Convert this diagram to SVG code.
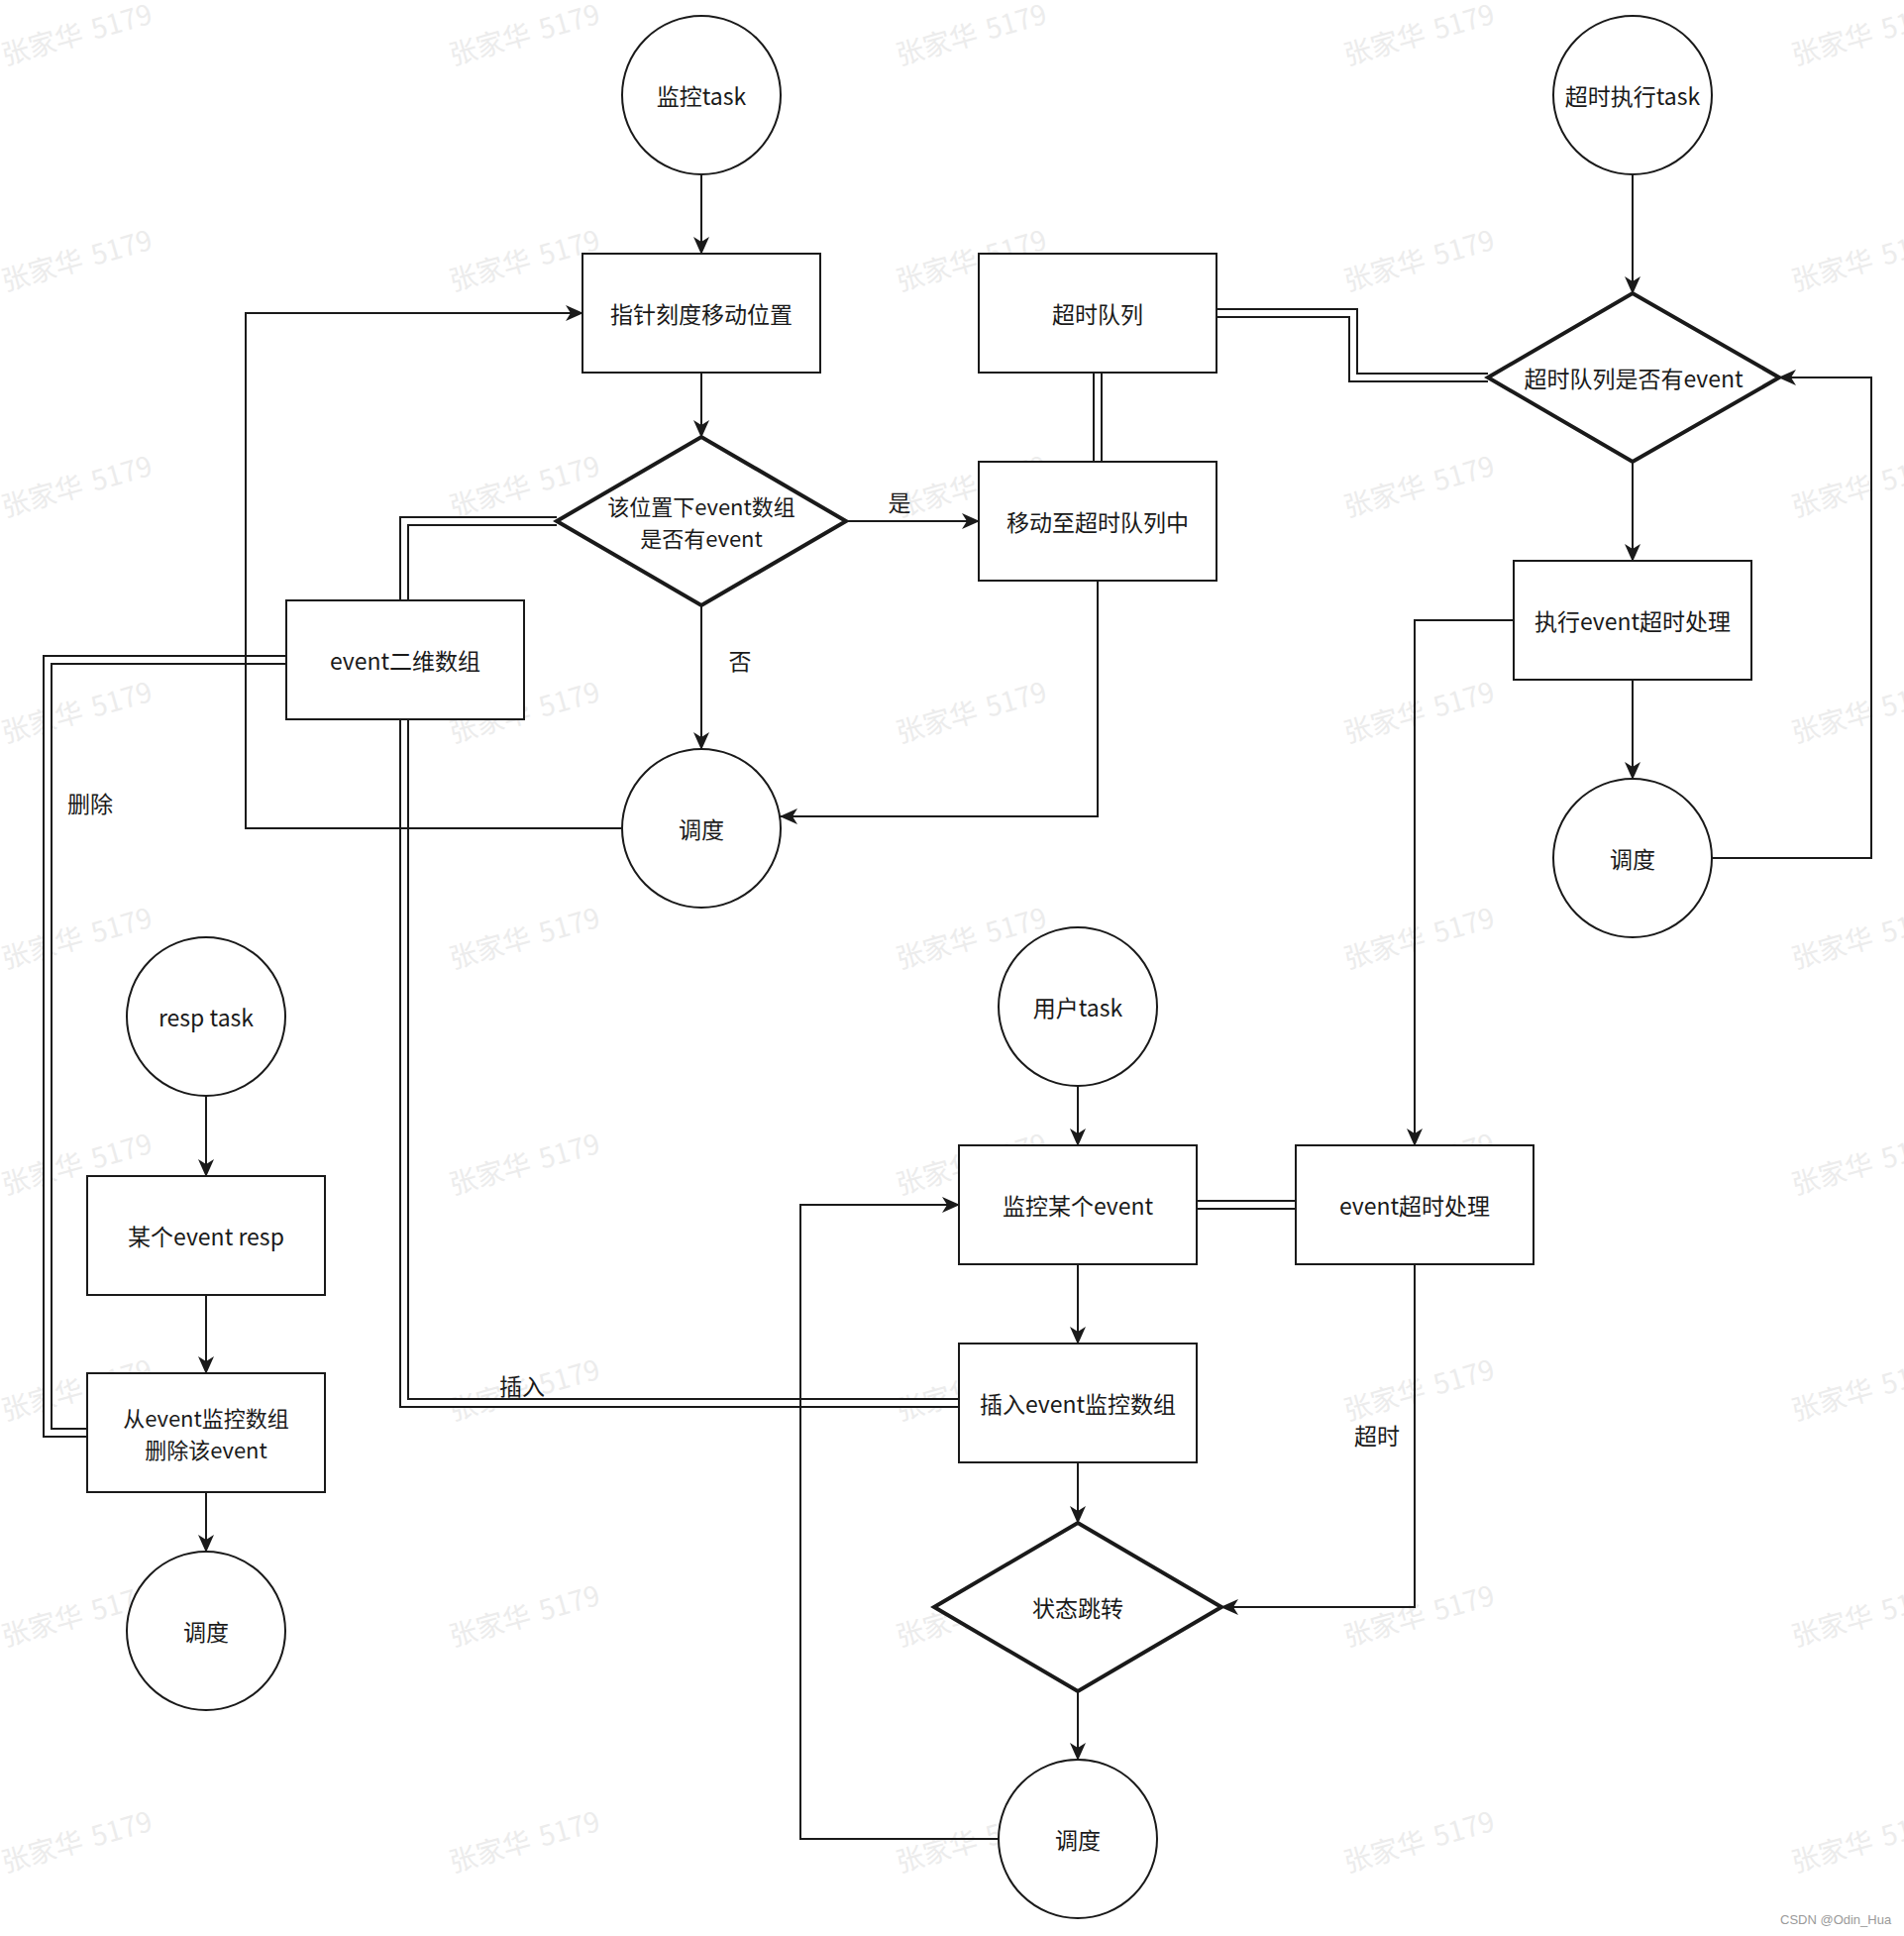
<svg xmlns="http://www.w3.org/2000/svg" xmlns:xlink="http://www.w3.org/1999/xlink" width="1922" height="1954" viewBox="0 0 1922 1954">
<style>
.shape{fill:#fff;stroke:#1a1a1a;stroke-width:2}
.dia{fill:#fff;stroke:#1a1a1a;stroke-width:4;stroke-linejoin:miter}
.t{font-family:"Noto Sans CJK SC","Liberation Sans",sans-serif;font-size:23px;fill:#1a1a1a;text-anchor:middle;dominant-baseline:central}
.t2{font-size:22px}
.lbl{font-family:"Noto Sans CJK SC","Liberation Sans",sans-serif;font-size:23px;fill:#1a1a1a;text-anchor:middle;dominant-baseline:central}
.wire{fill:none;stroke:#1a1a1a;stroke-width:2}
.arr{marker-end:url(#ah)}
.dblo{fill:none;stroke:#1a1a1a;stroke-width:10}
.dbli{fill:none;stroke:#fff;stroke-width:6}
.wm{font-family:"Noto Sans CJK SC","Liberation Sans",sans-serif;font-size:28px;fill:#ececec;word-spacing:4px}
.cr{font-family:"Liberation Sans",sans-serif;font-size:13px;fill:#9a9a9a}
</style>
<defs>
<marker id="ah" markerUnits="userSpaceOnUse" markerWidth="18" markerHeight="16" refX="17" refY="8" orient="auto">
<path d="M0,0 L18,8 L0,16 L5,8 Z" fill="#1a1a1a"/>
</marker>
<text id="wmt" class="wm" transform="rotate(-16)">张家华 5179</text>
</defs>
<rect width="1922" height="1954" fill="#fff"/>
<g id="watermarks">
<use xlink:href="#wmt" x="5" y="66"/><use xlink:href="#wmt" x="457" y="66"/><use xlink:href="#wmt" x="908" y="66"/><use xlink:href="#wmt" x="1360" y="66"/><use xlink:href="#wmt" x="1812" y="66"/>
<use xlink:href="#wmt" x="5" y="294"/><use xlink:href="#wmt" x="457" y="294"/><use xlink:href="#wmt" x="908" y="294"/><use xlink:href="#wmt" x="1360" y="294"/><use xlink:href="#wmt" x="1812" y="294"/>
<use xlink:href="#wmt" x="5" y="522"/><use xlink:href="#wmt" x="457" y="522"/><use xlink:href="#wmt" x="908" y="522"/><use xlink:href="#wmt" x="1360" y="522"/><use xlink:href="#wmt" x="1812" y="522"/>
<use xlink:href="#wmt" x="5" y="750"/><use xlink:href="#wmt" x="457" y="750"/><use xlink:href="#wmt" x="908" y="750"/><use xlink:href="#wmt" x="1360" y="750"/><use xlink:href="#wmt" x="1812" y="750"/>
<use xlink:href="#wmt" x="5" y="978"/><use xlink:href="#wmt" x="457" y="978"/><use xlink:href="#wmt" x="908" y="978"/><use xlink:href="#wmt" x="1360" y="978"/><use xlink:href="#wmt" x="1812" y="978"/>
<use xlink:href="#wmt" x="5" y="1206"/><use xlink:href="#wmt" x="457" y="1206"/><use xlink:href="#wmt" x="908" y="1206"/><use xlink:href="#wmt" x="1360" y="1206"/><use xlink:href="#wmt" x="1812" y="1206"/>
<use xlink:href="#wmt" x="5" y="1434"/><use xlink:href="#wmt" x="457" y="1434"/><use xlink:href="#wmt" x="908" y="1434"/><use xlink:href="#wmt" x="1360" y="1434"/><use xlink:href="#wmt" x="1812" y="1434"/>
<use xlink:href="#wmt" x="5" y="1662"/><use xlink:href="#wmt" x="457" y="1662"/><use xlink:href="#wmt" x="908" y="1662"/><use xlink:href="#wmt" x="1360" y="1662"/><use xlink:href="#wmt" x="1812" y="1662"/>
<use xlink:href="#wmt" x="5" y="1890"/><use xlink:href="#wmt" x="457" y="1890"/><use xlink:href="#wmt" x="908" y="1890"/><use xlink:href="#wmt" x="1360" y="1890"/><use xlink:href="#wmt" x="1812" y="1890"/>
</g>
<g id="connectors">
<g id="double-lines">
<path class="dblo" d="M1108,376 V466"/><path class="dbli" d="M1108,376 V466"/>
<path class="dblo" d="M1228,316 H1366 V381 H1502"/><path class="dbli" d="M1226,316 H1366 V381 H1504"/>
<path class="dblo" d="M562,526 H408 V606"/><path class="dbli" d="M564,526 H408 V608"/>
<path class="dblo" d="M289,666 H48 V1446 H88"/><path class="dbli" d="M291,666 H48 V1446 H90"/>
<path class="dblo" d="M408,726 V1416 H968"/><path class="dbli" d="M408,724 V1416 H970"/>
<path class="dblo" d="M1208,1216 H1308"/><path class="dbli" d="M1206,1216 H1310"/>
</g>
<path class="wire arr" d="M708,176 V256"/>
<path class="wire arr" d="M708,376 V441"/>
<path class="wire arr" d="M854,526 H988"/>
<path class="wire arr" d="M708,611 V756"/>
<path class="wire arr" d="M1108,586 V824 H788"/>
<path class="wire arr" d="M628,836 H248 V316 H588"/>
<path class="wire arr" d="M1648,176 V296"/>
<path class="wire arr" d="M1648,466 V566"/>
<path class="wire arr" d="M1648,686 V786"/>
<path class="wire arr" d="M1728,866 H1889 V381 H1796"/>
<path class="wire arr" d="M1528,626 H1428 V1156"/>
<path class="wire arr" d="M208,1106 V1187"/>
<path class="wire arr" d="M208,1307 V1386"/>
<path class="wire arr" d="M208,1506 V1566"/>
<path class="wire arr" d="M1088,1096 V1156"/>
<path class="wire arr" d="M1088,1276 V1356"/>
<path class="wire arr" d="M1088,1476 V1537"/>
<path class="wire arr" d="M1428,1276 V1622 H1233"/>
<path class="wire arr" d="M1088,1707 V1776"/>
<path class="wire arr" d="M1008,1856 H808 V1216 H968"/>
<text class="lbl" x="908" y="506">是</text>
<text class="lbl" x="747" y="666">否</text>
<text class="lbl" x="91" y="810">删除</text>
<text class="lbl" x="527" y="1398">插入</text>
<text class="lbl" x="1390" y="1448">超时</text>
</g>
<g id="n_monitor_task"><circle class="shape" cx="708" cy="96" r="80"/><text class="t" x="708" y="96">监控task</text></g>
<g id="n_pointer"><rect class="shape" x="588" y="256" width="240" height="120"/><text class="t" x="708" y="316">指针刻度移动位置</text></g>
<g id="n_check"><polygon class="dia" points="562,526 708,441 854,526 708,611"/><text class="t t2"><tspan x="708" y="510">该位置下event数组</tspan><tspan x="708" y="542">是否有event</tspan></text></g>
<g id="n_move"><rect class="shape" x="988" y="466" width="240" height="120"/><text class="t" x="1108" y="526">移动至超时队列中</text></g>
<g id="n_timeout_queue"><rect class="shape" x="988" y="256" width="240" height="120"/><text class="t" x="1108" y="316">超时队列</text></g>
<g id="n_sched1"><circle class="shape" cx="708" cy="836" r="80"/><text class="t" x="708" y="836">调度</text></g>
<g id="n_event2d"><rect class="shape" x="289" y="606" width="240" height="120"/><text class="t" x="409" y="666">event二维数组</text></g>
<g id="n_timeout_task"><circle class="shape" cx="1648" cy="96" r="80"/><text class="t" x="1648" y="96">超时执行task</text></g>
<g id="n_queue_check"><polygon class="dia" points="1502,381 1648,296 1796,381 1648,466"/><text class="t" x="1649" y="381">超时队列是否有event</text></g>
<g id="n_exec"><rect class="shape" x="1528" y="566" width="240" height="120"/><text class="t" x="1648" y="626">执行event超时处理</text></g>
<g id="n_sched2"><circle class="shape" cx="1648" cy="866" r="80"/><text class="t" x="1648" y="866">调度</text></g>
<g id="n_resp_task"><circle class="shape" cx="208" cy="1026" r="80"/><text class="t" x="208" y="1026">resp task</text></g>
<g id="n_resp"><rect class="shape" x="88" y="1187" width="240" height="120"/><text class="t" x="208" y="1247">某个event resp</text></g>
<g id="n_delete"><rect class="shape" x="88" y="1386" width="240" height="120"/><text class="t t2"><tspan x="208" y="1430">从event监控数组</tspan><tspan x="208" y="1462">删除该event</tspan></text></g>
<g id="n_sched3"><circle class="shape" cx="208" cy="1646" r="80"/><text class="t" x="208" y="1646">调度</text></g>
<g id="n_user_task"><circle class="shape" cx="1088" cy="1016" r="80"/><text class="t" x="1088" y="1016">用户task</text></g>
<g id="n_watch"><rect class="shape" x="968" y="1156" width="240" height="120"/><text class="t" x="1088" y="1216">监控某个event</text></g>
<g id="n_timeout_handle"><rect class="shape" x="1308" y="1156" width="240" height="120"/><text class="t" x="1428" y="1216">event超时处理</text></g>
<g id="n_insert"><rect class="shape" x="968" y="1356" width="240" height="120"/><text class="t" x="1088" y="1416">插入event监控数组</text></g>
<g id="n_state"><polygon class="dia" points="943,1622 1088,1537 1233,1622 1088,1707"/><text class="t" x="1088" y="1622">状态跳转</text></g>
<g id="n_sched4"><circle class="shape" cx="1088" cy="1856" r="80"/><text class="t" x="1088" y="1856">调度</text></g>
<text class="cr" x="1797" y="1942">CSDN @Odin_Hua</text>
</svg>
